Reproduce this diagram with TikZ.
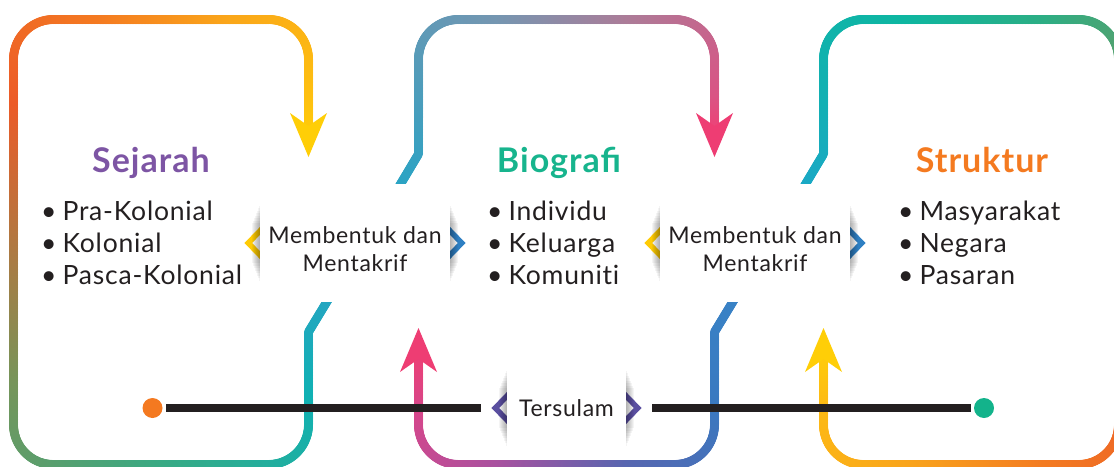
\documentclass[tikz,border=0pt]{standalone}
\usepackage{fontspec}
\setmainfont{Lato}[LetterSpace=3]
\usepackage{tikz}
\usetikzlibrary{calc}
\usetikzlibrary{decorations.markings}
\usetikzlibrary{positioning}

\definecolor{ink}{HTML}{231F20}
\definecolor{cSej}{HTML}{7D55A4}
\definecolor{cBio}{HTML}{17B48D}
\definecolor{cStr}{HTML}{F47A20}
\definecolor{chYel}{HTML}{FFCB05}
\definecolor{chBlu}{HTML}{2E7FC2}
\definecolor{chPur}{HTML}{5A4FA0}
\definecolor{dotOr}{HTML}{F47920}
\definecolor{dotGr}{HTML}{13B38B}
% Sejarah loop
\definecolor{lA}{HTML}{27A4C3}\definecolor{lB}{HTML}{10B1B3}
\definecolor{lC}{HTML}{38AA84}\definecolor{lD}{HTML}{76955A}
\definecolor{lE}{HTML}{EC5B28}\definecolor{lF}{HTML}{F47A21}
\definecolor{lG}{HTML}{FAA61A}\definecolor{lH}{HTML}{FEC010}
\definecolor{lI}{HTML}{FFC80B}\definecolor{arYel}{HTML}{FFCE07}
% Biografi loop, upper part
\definecolor{mA}{HTML}{25A5C5}\definecolor{mB}{HTML}{4A9DBC}
\definecolor{mC}{HTML}{7596B1}\definecolor{mD}{HTML}{AC7C98}
\definecolor{mE}{HTML}{DA5484}\definecolor{mF}{HTML}{EA4579}
\definecolor{arPnk}{HTML}{EE3D73}
% Biografi loop, lower part
\definecolor{nA}{HTML}{EC3F76}\definecolor{nB}{HTML}{D4478C}
\definecolor{nC}{HTML}{A9519F}\definecolor{nD}{HTML}{5766B0}
\definecolor{nE}{HTML}{3A79C0}\definecolor{nF}{HTML}{3983C6}
% Struktur loop
\definecolor{rA}{HTML}{1CA7C8}\definecolor{rB}{HTML}{12B0B4}
\definecolor{rC}{HTML}{0DB6A1}\definecolor{rD}{HTML}{2AAE85}
\definecolor{rE}{HTML}{659C66}\definecolor{rF}{HTML}{EC5E28}
\definecolor{rG}{HTML}{F37B21}\definecolor{rH}{HTML}{F9A41B}
\definecolor{rI}{HTML}{FDBB14}\definecolor{rJ}{HTML}{FFC90B}

\tikzset{
	ribbon/.style 2 args = {decorate, decoration={markings,
			mark=between positions 0 and 1 step 0.75pt with {%
				\pgfmathsetmacro\rbmix{max(0,min(100,100-100*(\pgfkeysvalueof{/pgf/decoration/mark info/distance from start}/\pgfdecoratedpathlength)))}%
				\fill[#1!\rbmix!#2] (0,0) circle (4.5pt);}}},
	headdn/.pic = {
			\fill[#1] (0,0) -- (-18.5,-44) -- (0,-31) -- (18.5,-44) -- cycle;
		},
	headup/.pic = {
			\fill[#1] (0,0) -- (-18.5,44) -- (0,31) -- (18.5,44) -- cycle;
		},
	chevL/.pic = {
			\draw[#1, line width=5.5pt] (14.5,-15) -- (0,0) -- (14.5,15);
		},
	chevR/.pic = {
			\draw[#1, line width=5.5pt] (-14.5,-15) -- (0,0) -- (-14.5,15);
		}
}

\newcommand{\edgeshade}[1]{%
	\foreach \k in {1,...,8}
	\fill[black, opacity=0.045] ($(#1)+(-\k,{-40+2.5*\k})$) rectangle ($(#1)+(\k,{40-2.5*\k})$);
}

\begin{document}
\begin{tikzpicture}
	[x=1pt, y=-1pt,
	head/.style = {font=\fontsize{34}{40}\selectfont\bfseries, anchor=base, inner sep=0pt},
	item/.style = {font=\fontsize{26.5}{32}\selectfont\addfontfeatures{Ligatures=NoCommon},
			text=ink, anchor=base west, inner sep=0pt},
	mbox/.style = {fill=white, minimum width=190pt, minimum height=118pt, inner sep=0pt},
	mtxt/.style = {font=\fontsize{23}{28}\selectfont, text=ink, align=center, inner sep=0pt},
	tbox/.style = {fill=white, minimum width=119pt, minimum height=79pt, inner sep=0pt,
			font=\fontsize{23}{27}\selectfont, text=ink},
	dotnode/.style = {circle, inner sep=0pt, minimum size=20pt},
	tie/.style = {ink, line width=8pt}
	]
	\useasboundingbox (0,0) rectangle (1114,466);
	\clip (0,0) rectangle (1114,466);

	% Sejarah loop
	\path[ribbon={lA}{lB}] (334,290) -- (308.5,332) -- (308.5,400);
	\path[ribbon={lB}{lC}, rounded corners=40pt] (308.5,400) |- (160,464.5);
	\path[ribbon={lC}{lD}, rounded corners=40pt] (160,464.5) -| (13.5,380);
	\path[ribbon={lD}{lE}] (13.5,380) -- (13.5,100);
	\path[ribbon={lE}{lF}, rounded corners=40pt] (13.5,100) |- (100,19.5);
	\path[ribbon={lF}{lG}] (100,19.5) -- (230,19.5);
	\path[ribbon={lG}{lH}, rounded corners=40pt] (230,19.5) -| (308.5,100);
	\path[ribbon={lH}{lI}] (308.5,100) -- (308.5,126);
	\pic at (308.5,157) {headdn=arYel};

	% Biografi loop
	\path[ribbon={mA}{mB}] (394,195) -- (418.5,154) -- (418.5,100);
	\path[ribbon={mB}{mC}, rounded corners=40pt] (418.5,100) |- (500,19.5);
	\path[ribbon={mC}{mD}] (500,19.5) -- (630,19.5);
	\path[ribbon={mD}{mE}, rounded corners=40pt] (630,19.5) -| (714.5,100);
	\path[ribbon={mE}{mF}] (714.5,100) -- (714.5,126);
	\pic at (714.5,157) {headdn=arPnk};

	\path[ribbon={nA}{nB}] (418.5,359) -- (418.5,420);
	\path[ribbon={nB}{nC}, rounded corners=40pt] (418.5,420) |- (500,464.5);
	\path[ribbon={nC}{nD}] (500,464.5) -- (630,464.5);
	\path[ribbon={nD}{nE}, rounded corners=40pt] (630,464.5) -| (714.5,400);
	\path[ribbon={nE}{nF}] (714.5,400) -- (714.5,332) -- (740,290);
	\pic at (418.5,328) {headup=arPnk};

	% Struktur loop
	\path[ribbon={rA}{rB}] (799,195) -- (823.5,154) -- (823.5,100);
	\path[ribbon={rB}{rC}, rounded corners=40pt] (823.5,100) |- (905,19.5);
	\path[ribbon={rC}{rD}] (905,19.5) -- (1040,19.5);
	\path[ribbon={rD}{rE}, rounded corners=40pt] (1040,19.5) -| (1118.5,100);
	\path[ribbon={rE}{rF}] (1118.5,100) -- (1118.5,380);
	\path[ribbon={rF}{rG}, rounded corners=40pt] (1118.5,380) |- (1040,464.5);
	\path[ribbon={rG}{rH}] (1040,464.5) -- (905,464.5);
	\path[ribbon={rH}{rI}, rounded corners=40pt] (905,464.5) -| (823.5,400);
	\path[ribbon={rI}{rJ}] (823.5,400) -- (823.5,359);
	\pic at (823.5,328) {headup=arYel};

	% boxes
	\node[mbox] (mb1) at (355,243) {};
	\node[mbox] (mb2) at (755,243) {};
	\node[tbox] (ts) at (566.5,408) {};

	% time line
	\node[dotnode, fill=dotOr] (dotL) at (152.5,408) {};
	\node[dotnode, fill=dotGr] (dotR) at (984,408) {};
	\draw[tie, shorten <=3.5pt, shorten >=26pt] (dotL) -- (ts);
	\draw[tie, shorten <=26pt, shorten >=3pt] (ts) -- (dotR);

	% chevrons, shadows, then boxes on top
	\pic at ([xshift=-11.5pt]mb1.west) {chevL=chYel};
	\pic at ([xshift=11.5pt]mb1.east) {chevR=chBlu};
	\pic at ([xshift=-11.5pt]mb2.west) {chevL=chYel};
	\pic at ([xshift=11.5pt]mb2.east) {chevR=chBlu};
	\pic at ([xshift=-11.5pt]ts.west) {chevL=chPur};
	\pic at ([xshift=11.5pt]ts.east) {chevR=chPur};
	\foreach \e in {mb1.west, mb1.east, mb2.west, mb2.east, ts.west, ts.east}
	\edgeshade{\e};
	\fill[white] (mb1.north west) rectangle (mb1.south east);
	\fill[white] (mb2.north west) rectangle (mb2.south east);
	\fill[white] (ts.north west) rectangle (ts.south east);

	\node[mtxt] (mt1) at (355,249) {Membentuk dan\\Mentakrif};
	\node[mtxt] (mt2) at (755,249) {Membentuk dan\\Mentakrif};
	\node[tbox, fill=none] (tsl) at (ts) {Tersulam};

	% titles and lists
	\node[head, text=cSej] (sejarah) at (151,172) {Sejarah};
	\node[head, text=cBio] (biografi) at (559,172) {Biografi};
	\node[head, text=cStr] (struktur) at (982,172) {Struktur};
	\foreach \t [count=\i] in {Pra-Kolonial, Kolonial, Pasca-Kolonial}
	\node[item] (sej\i) at (41,188+32*\i) {\textbullet\kern6pt\t};
	\foreach \t [count=\i] in {Individu, Keluarga, Komuniti}
	\node[item] (bio\i) at (487,188+32*\i) {\textbullet\kern6pt\t};
	\foreach \t [count=\i] in {Masyarakat, Negara, Pasaran}
	\node[item] (str\i) at (898,188+32*\i) {\textbullet\kern6pt\t};
\end{tikzpicture}
\end{document}
